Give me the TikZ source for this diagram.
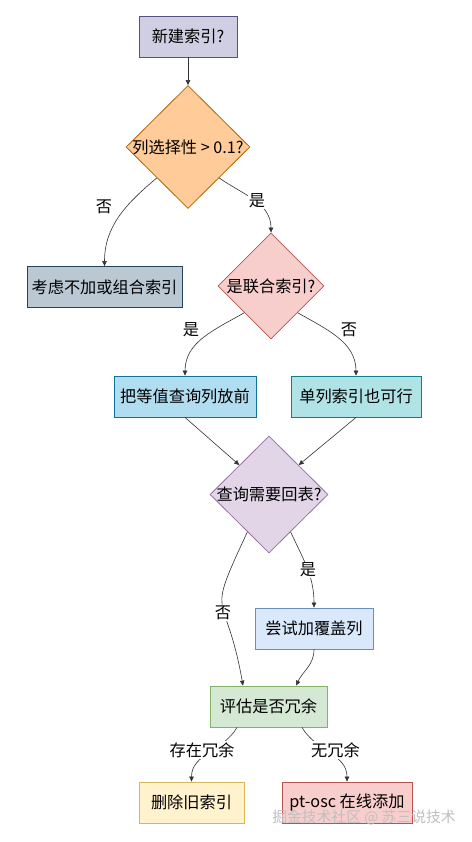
\documentclass[tikz,border=0pt]{standalone}
\usepackage{fontspec}
\setmainfont{Noto Sans CJK SC}
\usetikzlibrary{shapes.geometric,arrows.meta}

% node colours
\definecolor{newfill}{HTML}{D0CEE2}
\definecolor{newline}{HTML}{56517E}
\definecolor{selfill}{HTML}{FFCC99}
\definecolor{selline}{HTML}{B46504}
\definecolor{skipfill}{HTML}{BAC8D3}
\definecolor{skipline}{HTML}{23445D}
\definecolor{redfill}{HTML}{F8CECC}
\definecolor{redline}{HTML}{B85450}
\definecolor{eqffill}{HTML}{B1DDF0}
\definecolor{eqfline}{HTML}{10739E}
\definecolor{sglfill}{HTML}{B0E3E6}
\definecolor{sglline}{HTML}{0E8088}
\definecolor{backfill}{HTML}{E1D5E7}
\definecolor{backline}{HTML}{9673A6}
\definecolor{covfill}{HTML}{DAE8FC}
\definecolor{covline}{HTML}{6C8EBF}
\definecolor{evalfill}{HTML}{D5E8D4}
\definecolor{evalline}{HTML}{82B366}
\definecolor{dropfill}{HTML}{FFF2CC}
\definecolor{dropline}{HTML}{D6B656}
\definecolor{edgegray}{HTML}{333333}

\begin{document}
\begin{tikzpicture}[x=1pt, y=1pt,
	font=\fontsize{16.2}{19}\selectfont,
	box/.style={draw, rectangle, line width=0.8pt, minimum height=41, inner sep=0pt},
	dia/.style={draw, diamond, line width=0.8pt, inner sep=0pt},
	flow/.style={draw=edgegray, line width=0.6pt, -{Triangle[length=5pt,width=4.5pt]}},
	lbl/.style={fill=white, inner sep=1pt}]

	% page size
	\useasboundingbox (0,0) rectangle (471,-842);

	% Draw nodes
	%Start
	\node[box, fill=newfill, draw=newline, minimum width=98] (new) at (188,-36.5) {新建索引?};
	%Selectivity
	\node[dia, fill=selfill, draw=selline, minimum width=124, minimum height=123,
		label=center:{列选择性 > 0.1?}] (sel) at (188,-147) {};
	\node[box, fill=skipfill, draw=skipline, minimum width=155] (skip) at (104.5,-287) {考虑不加或组合索引};
	%Composite
	\node[dia, fill=redfill, draw=redline, minimum width=106, minimum height=106,
		label=center:{是联合索引?}] (comp) at (271,-286) {};
	\node[box, fill=eqffill, draw=eqfline, minimum width=142] (eqf) at (185,-396.5) {把等值查询列放前};
	\node[box, fill=sglfill, draw=sglline, minimum width=130] (single) at (356,-396.5) {单列索引也可行};
	%Back to table
	\node[dia, fill=backfill, draw=backline, minimum width=118, minimum height=117,
		label=center:{查询需要回表?}] (back) at (269,-494.5) {};
	\node[box, fill=covfill, draw=covline, minimum width=118] (cover) at (314,-628.5) {尝试加覆盖列};
	%Redundancy
	\node[box, fill=evalfill, draw=evalline, minimum width=117] (redund) at (268.5,-706.5) {评估是否冗余};
	\node[box, fill=dropfill, draw=dropline, minimum width=105] (drop) at (191.5,-802.5) {删除旧索引};
	\node[box, fill=redfill, draw=redline, minimum width=130] (ptosc) at (347,-802.5) {pt-osc 在线添加};

	% Draw connectors
	\draw[flow] (new) -- (sel);
	\draw[flow] (sel.south west) to[out=220, in=90] (skip.north);
	\draw[flow] (sel.south east) to[out=-35, in=90] (comp.north);
	\draw[flow] (comp.south west) to[out=210, in=90] (eqf.north);
	\draw[flow] (comp.south east) to[out=-30, in=90] (single.north);
	\draw[flow] (eqf.south) -- (back.north west);
	\draw[flow] (single.south) -- (back.north east);
	\draw[flow] (back.240) to[out=245, in=100, looseness=1.7] ([xshift=-25.5pt]redund.north);
	\draw[flow] (back.300) to[out=-65, in=90] (cover.north);
	\draw[flow] (cover.south) to[out=-90, in=65] ([xshift=27.5pt]redund.north);
	\draw[flow] ([xshift=-31.5pt]redund.south) to[out=240, in=90] (drop.north);
	\draw[flow] ([xshift=33.5pt]redund.south) to[out=-60, in=90] (ptosc.north);

	% Connector labels
	\node[lbl] (selno) at (104,-207) {否};
	\node[lbl] (selyes) at (257,-201) {是};
	\node[lbl] (compyes) at (191,-330) {是};
	\node[lbl] (compno) at (349,-330) {否};
	\node[lbl] (backyes) at (308,-570) {是};
	\node[lbl] (backno) at (223,-613) {否};
	\node[lbl] (redyes) at (202,-750) {存在冗余};
	\node[lbl] (redno) at (335.5,-750) {无冗余};

	% watermark
	\node[text=gray!50, font=\fontsize{14.8}{17}\selectfont] (mark) at (364,-817) {掘金技术社区 @ 苏三说技术};

\end{tikzpicture}
\end{document}
